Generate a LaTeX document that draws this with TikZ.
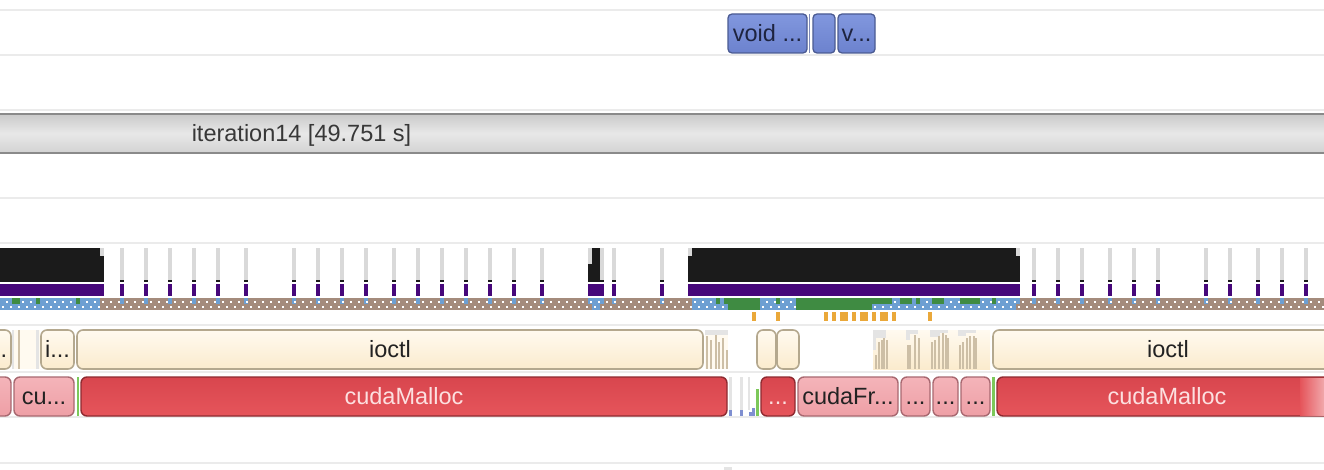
\documentclass[tikz,border=0pt]{standalone}
\usepackage{fontspec}
\setmainfont{Liberation Sans}
\definecolor{sepc}{HTML}{EBEBEB}
\definecolor{voidb}{HTML}{4B5B92}
\definecolor{voidt}{HTML}{8197DE}
\definecolor{voidbt}{HTML}{6C82CE}
\definecolor{voidtx}{HTML}{1E2440}
\definecolor{iterb}{HTML}{8A8A8A}
\definecolor{itert}{HTML}{CACACA}
\definecolor{iterm}{HTML}{E8E8E8}
\definecolor{iterbt}{HTML}{D2D2D2}
\definecolor{blk}{HTML}{1B1B1B}
\definecolor{tickg}{HTML}{D9D9D9}
\definecolor{purp}{HTML}{46077A}
\definecolor{blu}{HTML}{6D9FD2}
\definecolor{brn}{HTML}{A48B7C}
\definecolor{grn}{HTML}{3F8B42}
\definecolor{org}{HTML}{EAA83A}
\definecolor{creamb}{HTML}{B4A88E}
\definecolor{creamt}{HTML}{FFFAF0}
\definecolor{creambt}{HTML}{FBEBCD}
\definecolor{strp}{HTML}{CDBFA6}
\definecolor{stgray}{HTML}{E4E4E4}
\definecolor{redb}{HTML}{8E2A30}
\definecolor{redt}{HTML}{D8464E}
\definecolor{redbt}{HTML}{E6555B}
\definecolor{redtx}{HTML}{FCE0E0}
\definecolor{pinkb}{HTML}{A86870}
\definecolor{pinkt}{HTML}{F4B4B9}
\definecolor{pinkbt}{HTML}{EE9FA6}
\definecolor{darktx}{HTML}{222222}
\definecolor{lgrn}{HTML}{7CC85A}
\definecolor{sblue}{HTML}{7F8FD0}
\newcommand\tlbox[7]{\node[#1,minimum width={(#4)-(#3)},minimum height={(#6)-(#5)}] (#2) at ({((#3)+(#4))/2},{((#5)+(#6))/2}) {#7};}
\begin{document}
\begin{tikzpicture}[x=1pt,y=-1pt,
  sep/.style={draw=sepc,line width=2pt},
  basebox/.style={inner sep=0pt,outer sep=0pt,text height=16.5pt,text depth=0pt,font=\fontsize{23.5}{26}\selectfont},
  voidbox/.style={basebox,draw=voidb,line width=1.3pt,rounded corners=4pt,top color=voidt,bottom color=voidbt,text=voidtx},
  creambox/.style={basebox,draw=creamb,line width=1.6pt,rounded corners=6pt,top color=creamt,bottom color=creambt,text=darktx},
  redbox/.style={basebox,draw=redb,line width=1.4pt,rounded corners=6pt,top color=redt,bottom color=redbt,text=redtx},
  pinkbox/.style={basebox,draw=pinkb,line width=1.4pt,rounded corners=6pt,top color=pinkt,bottom color=pinkbt,text=darktx},
  lbl/.style={inner sep=0pt,text height=16.5pt,text depth=0pt,font=\fontsize{23.5}{26}\selectfont,text=darktx}]
\useasboundingbox (0,0) rectangle (1324,470);
\fill[white] (0,0) rectangle (1324,470);
\begin{scope}
\clip (0,0) rectangle (1324,470);
% separators
\foreach \y in {10,55,110,198,243,325,372,417,463} \draw[sep] (0,\y) -- (1324,\y);
% top row
\draw[sblue!70!gray,line width=1.5pt] (809.5,14) -- (809.5,53);
\tlbox{voidbox}{v1}{728}{807}{14}{53}{void ...}
\tlbox{voidbox}{v2}{813}{835}{14}{53}{}
\tlbox{voidbox}{v3}{838}{875}{14}{53}{v...}
% iteration bar
\shade[top color=itert,bottom color=iterbt,middle color=iterm] (-2,114) rectangle (1326,153);
\draw[iterb,line width=2pt] (0,114) -- (1324,114);
\draw[iterb,line width=2pt] (0,153) -- (1324,153);
\node[lbl,text=darktx!90] (iter) at (301.5,133.5) {iteration14 [49.751 s]};
% black blocks
\fill[blk] (0,248) rectangle (100,282);
\fill[tickg] (100,248) rectangle (104,256);
\fill[blk] (100,256) rectangle (104,282);
\fill[purp] (0,284) rectangle (104,296);
\fill[tickg] (588,248) rectangle (592,264);
\fill[blk] (592,248) rectangle (600,282);
\fill[blk] (588,264) rectangle (600,282);
\fill[tickg] (600,248) rectangle (604,280);
\fill[blk] (600,280) rectangle (604,282);
\fill[purp] (588,284) rectangle (604,296);
\fill[tickg] (688,248) rectangle (692,256);
\fill[blk] (692,248) rectangle (1016,282);
\fill[blk] (688,256) rectangle (692,282);
\fill[tickg] (1016,248) rectangle (1020,256);
\fill[blk] (1016,256) rectangle (1020,282);
\fill[purp] (688,284) rectangle (1020,296);
% pattern row base
\fill[brn] (0,298) rectangle (1324,310);
\fill[blu] (0,298) rectangle (100,310);
\fill[blu] (588,298) rectangle (604,304);
\fill[blu] (592,304) rectangle (600,310);
\fill[blu] (692,298) rectangle (1020,304);
\fill[blu] (692,304) rectangle (1016,310);
% ticks
\foreach \x in {120,144,168,192,216,244,292,316,340,364,392,416,440,464,488,512,540,612,660,1032,1056,1080,1108,1132,1156,1204,1228,1256,1280,1304} {
  \fill[tickg] (\x,248) rectangle (\x+4,280);
  \fill[blk] (\x,280) rectangle (\x+4,282);
  \fill[purp] (\x,284) rectangle (\x+4,296);
  \fill[blu] (\x,298) rectangle (\x+4,304);
}
% dots
\foreach \k in {0,...,166} {
  \fill[white] (6+8*\k,300.5) rectangle (8+8*\k,302.5);
  \fill[white] (2+8*\k,305.5) rectangle (4+8*\k,307.5);
}
% green parts
\fill[grn] (12,298) rectangle (20,304);
\fill[grn] (36,298) rectangle (40,304);
\fill[grn] (76,298) rectangle (80,304);
\fill[grn] (716,298) rectangle (760,304);
\fill[blu] (720,298) rectangle (724,304);
\fill[grn] (728,304) rectangle (760,310);
\fill[grn] (776,298) rectangle (780,304);
\fill[grn] (796,298) rectangle (892,304);
\fill[grn] (796,304) rectangle (872,310);
\fill[grn] (900,298) rectangle (912,304);
\fill[grn] (916,298) rectangle (920,304);
\fill[grn] (932,298) rectangle (944,304);
\fill[grn] (960,298) rectangle (980,304);
\fill[grn] (992,298) rectangle (996,304);
% orange ticks
\foreach \x in {752,776,824,832,840,844,852,860,864,872,880,884,892,928} \fill[org] (\x,312) rectangle (\x+3.5,321);
% ioctl row
\tlbox{creambox}{io0}{-25}{11}{330}{369}{}
\node[lbl] (io0lbl) at (4,349.5) {.};
\fill[creamt] (12,330) rectangle (40,369);
\fill[stgray] (12,330) rectangle (14,369);
\fill[strp] (18,330) rectangle (20,369);
\fill[stgray] (36,330) rectangle (39,369);
\tlbox{creambox}{io1}{41}{74}{330}{369}{i...}
\tlbox{creambox}{io2}{77}{703}{330}{369}{ioctl}
\fill[creamt] (705,330) rectangle (728,369);
\fill[stgray] (705,330) rectangle (728,335);
\foreach \x/\t in {706/336,710/340,715/335,718/342,722/338,726/350} \fill[strp] (\x,\t) rectangle (\x+1.6,369);
\tlbox{creambox}{io3}{757}{776}{330}{369}{}
\tlbox{creambox}{io4}{777}{799}{330}{369}{}
\shade[top color=creamt,bottom color=creambt] (873,330) rectangle (990,369);
\foreach \a/\b/\h in {873/876/350,876/886/338,906/910/340,910/918/334,930/940/337,940/948/333,958/966/336,966/976/333} \fill[stgray] (\a,330) rectangle (\b,\h);
\foreach \x/\t in {875/355,878/342,881/340,883/338,886/340,907/345,909/345,914/335,918/338,931/342,934/340,938/336,942/333,945/335,947/338,959/345,962/342,966/338,969/336,973/336,975/338} \fill[strp] (\x,\t) rectangle (\x+1.6,369);
\tlbox{creambox}{io5}{993}{1343}{330}{369}{ioctl}
% cuda row
\tlbox{pinkbox}{cu0}{-25}{11}{377}{416}{}
\tlbox{pinkbox}{cu1}{14}{74}{377}{416}{cu...}
\fill[lgrn] (76.5,377) rectangle (78.5,416);
\tlbox{redbox}{cu2}{81}{727}{377}{416}{cudaMalloc}
\fill[stgray] (729,377) rectangle (732,410);
\fill[stgray] (740,377) rectangle (743,410);
\fill[stgray] (748,377) rectangle (750,410);
\fill[sblue] (729,410) rectangle (732,416);
\fill[sblue] (740,410) rectangle (743,416);
\fill[sblue] (749,412) rectangle (752,416);
\fill[sblue] (752,408) rectangle (755,416);
\fill[lgrn] (756,389) rectangle (759,416);
\tlbox{redbox}{cu3}{761}{795}{377}{416}{...}
\tlbox{pinkbox}{cu4}{798}{898}{377}{416}{cudaFr...}
\tlbox{pinkbox}{cu5}{901}{930}{377}{416}{...}
\tlbox{pinkbox}{cu6}{933}{958}{377}{416}{...}
\tlbox{pinkbox}{cu7}{961}{990}{377}{416}{...}
\fill[lgrn] (992,377) rectangle (994.5,416);
\tlbox{redbox}{cu8}{997}{1337}{377}{416}{cudaMalloc}
\shade[left color=redbt,right color=redbt!45!white,opacity=0.9] (1300,378) rectangle (1324,415);
% tiny mark at bottom
\fill[stgray] (724,467) rectangle (732,470);
\end{scope}
\end{tikzpicture}
\end{document}
